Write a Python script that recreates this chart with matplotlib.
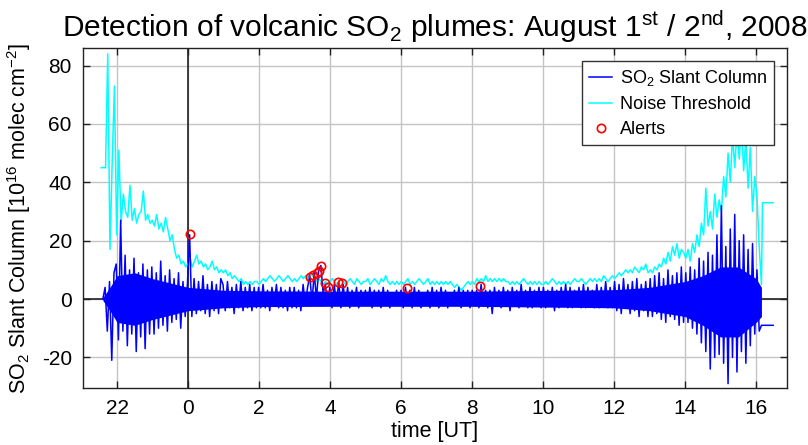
import numpy as np
import matplotlib
matplotlib.use("Agg")
import matplotlib.pyplot as plt

plt.rcParams["font.family"] = ["Liberation Sans", "DejaVu Sans"]
plt.rcParams["mathtext.fontset"] = "custom"
plt.rcParams["mathtext.rm"] = "Liberation Sans"
plt.rcParams["mathtext.it"] = "Liberation Sans:italic"
plt.rcParams["mathtext.bf"] = "Liberation Sans:bold"
plt.rcParams["mathtext.default"] = "regular"
plt.rcParams["axes.unicode_minus"] = False

# ── 1. Data (hours relative to 00 UT, Aug 2nd) ───────────────────────────────
so2_start, so2_end = -2.4, 16.15
so2_vals = [
    0, 4, -11, 6, -21, 9,
    12, -14, 27, -11, 15, -16, 10, -12, 14, -18, 9, -13, 12, -17, 10, -12,
    11, -12, 9, -10, 13, -9, 8, -11, 10, -8, 7, -7, 9, -10, 6, -6,
    5, 22, -6, 7, -5, 6, -4, 8, -5, 5, -6, 6, -4, 5, -5, 7,
    5, -4, 6, -3, 4, -5, 5, -3, 6, -4, 4, -3, 5, -4, 4, -3,
    4, -3, 5, -3, 3, -4, 4, -2, 5, -3, 4, -3, 3, -4, 4, -3,
    4, -3, 3, -4, 5, -2, 4, 8, -1, 9, 0, 10, 11.5, 2, 5, -2,
    4, -3, 5, -2, 6, -3, 5, -2, 4, -3, 3, -2, 4, -3, 3, -2,
    3, -2, 4, -3, 3, -2, 3, -3, 4, -2, 3, -3, 2, -2, 3, -2,
    3, -3, 4, -2, 3, -3, 4, -2, 3, -3, 2, -2, 3, -3, 4, -2,
    3, -3, 4, -2, 3, -3, 2, -2, 3, -2, 4, -3, 3, -2, 3, -3,
    3, -2, 3, -3, 5, -2, 3, -3, 3, -5, 4, -2, 3, -3, 4, -2,
    3, -4, 4, -2, 3, -3, 5, -2, 3, -3, 4, -3, 3, -2, 4, -3,
    4, -3, 3, -2, 4, -4, 3, -3, 4, -2, 5, -3, 4, -3, 3, -2,
    4, -3, 5, -3, 4, -2, 3, -3, 5, -3, 4, -2, 6, -3, 4, -3,
    6, -4, 5, -5, 7, -3, 5, -5, 6, -4, 7, -6, 5, -4, 6, -6,
    7, -6, 8, -5, 9, -7, 7, -8, 10, -6, 8, -7, 9, -9, 11, -8,
    9, -8, 11, -10, 10, -12, 14, -15, 13, -18, 16, -24, 15, -20, 22, -19,
    32, -22, 18, -29, 24, -20, 29, -25, 20, -18, 22, -22, 17, -16, 19, -12,
    10, -11, -9,
]
so2_tail_t = [16.48]
so2_tail_v = [-9]

# solid core of the blue noise band (upper / lower edge)
core_t = [-2.4, -2.2, -2.0, -1.5, -1.0, -0.5, 0.0, 0.5, 1.0, 2.0, 4.0, 8.0,
          12.0, 13.0, 13.5, 14.0, 14.5, 15.0, 15.5, 16.0, 16.15]
core_hi = [0.5, 4, 8, 9, 7, 5.5, 4, 3.5, 3, 2.8, 2.7, 2.7,
           3.2, 4, 5, 6, 8, 11, 11, 7, 4]
core_lo = [-0.5, -4, -8, -9, -7, -5.5, -4, -3.5, -3, -2.6, -2.5, -2.5,
           -3, -4, -5, -6, -9, -13, -13, -8, -6]

thr_start, thr_end = -2.45, 16.15
thr_vals = [
    45, 45, 45, 84, 17, 47, 73,
    22, 51, 26, 36, 30, 28, 39, 27, 31, 26, 29, 30, 37, 27, 29, 26,
    27, 25, 29, 24, 26, 23, 28, 24, 20, 22, 17, 14, 15, 12, 13, 11,
    12, 14, 11, 13, 15, 12, 13, 11, 12, 10, 11, 13, 10, 11, 9, 10,
    9, 10, 8, 9, 7, 8, 7, 6, 7, 5, 6, 5, 6, 5, 6, 6,
    5, 6, 7, 6, 7, 8, 7, 6, 7, 8, 7, 6, 7, 8, 7, 6,
    7, 6, 7, 8, 7, 8, 7, 9, 8, 7, 6, 7, 6, 5, 6, 5,
    6, 7, 6, 5, 6, 7, 6, 5, 6, 7, 6, 5, 7, 6, 5, 6,
    6, 7, 5, 6, 7, 6, 5, 7, 6, 8, 6, 5, 6, 5, 6, 5,
    6, 5, 6, 7, 5, 6, 5, 6, 7, 6, 5, 6, 7, 5, 6, 5,
    6, 5, 6, 5, 6, 5, 6, 5, 4, 5, 4, 3, 4, 5, 6, 5,
    6, 5, 7, 6, 7, 6, 8, 6, 7, 6, 7, 6, 7, 6, 7, 6,
    6, 5, 6, 5, 6, 5, 6, 7, 6, 5, 6, 5, 6, 5, 6, 5,
    5, 6, 5, 6, 7, 6, 5, 6, 5, 6, 5, 6, 5, 6, 7, 6,
    6, 7, 6, 5, 6, 7, 6, 7, 6, 7, 6, 8, 7, 6, 7, 8,
    7, 8, 9, 8, 9, 10, 9, 10, 9, 11, 10, 9, 11, 10, 12, 9,
    10, 9, 11, 10, 12, 11, 14, 12, 16, 13, 18, 15, 19, 14, 17, 16,
    14, 17, 13, 19, 16, 22, 18, 26, 22, 38, 25, 30, 24, 36, 28, 34,
    30, 42, 35, 50, 40, 56, 45, 58, 48, 60, 44, 55, 38, 52, 30, 42,
    35, 18, 5,
]
thr_tail_t = [16.18, 16.48]
thr_tail_v = [33, 33]

alert_t = [0.06, 3.44, 3.53, 3.62, 3.68, 3.74, 3.86, 3.95, 4.23, 4.33, 6.16, 8.23]
alert_v = [22.3, 7.6, 8.2, 9.0, 9.5, 11.4, 5.4, 4.2, 5.9, 5.6, 3.7, 4.5]

xticks = [-2, 0, 2, 4, 6, 8, 10, 12, 14, 16]
xtick_labels = ["22", "0", "2", "4", "6", "8", "10", "12", "14", "16"]
yticks = [-20, 0, 20, 40, 60, 80]

so2_t = np.append(np.linspace(so2_start, so2_end, len(so2_vals)), so2_tail_t)
so2_v = np.append(so2_vals, so2_tail_v)
thr_t = np.append(np.linspace(thr_start, thr_end, len(thr_vals)), thr_tail_t)
thr_v = np.append(thr_vals, thr_tail_v)

# ── 2. Plot ──────────────────────────────────────────────────────────────────
fig = plt.figure(figsize=(8.08, 4.45), dpi=100)
ax = fig.add_axes([0.1027, 0.128, 0.8713, 0.764])

ax.grid(True, color="#c4c4c4", linewidth=1.0)
ax.set_axisbelow(True)
ax.axhline(0, color="#222222", linewidth=1.2, zorder=1.5)
ax.axvline(0, color="#222222", linewidth=1.2, zorder=1.5)

thr_line, = ax.plot(thr_t, thr_v, color="#00ffff", linewidth=1.1, zorder=2)
ax.fill_between(core_t, core_lo, core_hi, color="#0000ff", linewidth=0, zorder=3)
so2_line, = ax.plot(so2_t, so2_v, color="#0000ff", linewidth=1.1, zorder=3)
alerts, = ax.plot(alert_t, alert_v, "o", markerfacecolor="none",
                  markeredgecolor="#ff0000", markeredgewidth=1.2,
                  markersize=6, zorder=4)

ax.set_xlim(-2.96, 16.87)
ax.set_ylim(-30.5, 86)
ax.set_xticks(xticks)
ax.set_xticklabels(xtick_labels)
ax.set_yticks(yticks)
ax.tick_params(direction="in", length=5, width=1, top=True, right=True,
               labelsize=15, pad=8, colors="#222222", labelcolor="black")
for s in ax.spines.values():
    s.set_color("#222222")
    s.set_linewidth(1.0)

ax.set_title("Detection of volcanic SO$_2$ plumes: August 1$^{st}$ / 2$^{nd}$, 2008",
             fontsize=21.5, pad=8)
ax.set_xlabel("time [UT]", fontsize=15.5, labelpad=2)
ax.set_ylabel("SO$_2$ Slant Column [10$^{16}$ molec cm$^{-2}$]", fontsize=15.5, labelpad=6)

leg = ax.legend([so2_line, thr_line, alerts],
                ["SO$_2$ Slant Column", "Noise Threshold", "Alerts"],
                loc="upper right", fontsize=13, fancybox=False, framealpha=1,
                edgecolor="#333333", handlelength=1.3, handletextpad=0.4,
                labelspacing=0.45, borderaxespad=0.7, borderpad=0.4)
leg.get_frame().set_linewidth(1.0)

plt.savefig("out.png", dpi=100)
